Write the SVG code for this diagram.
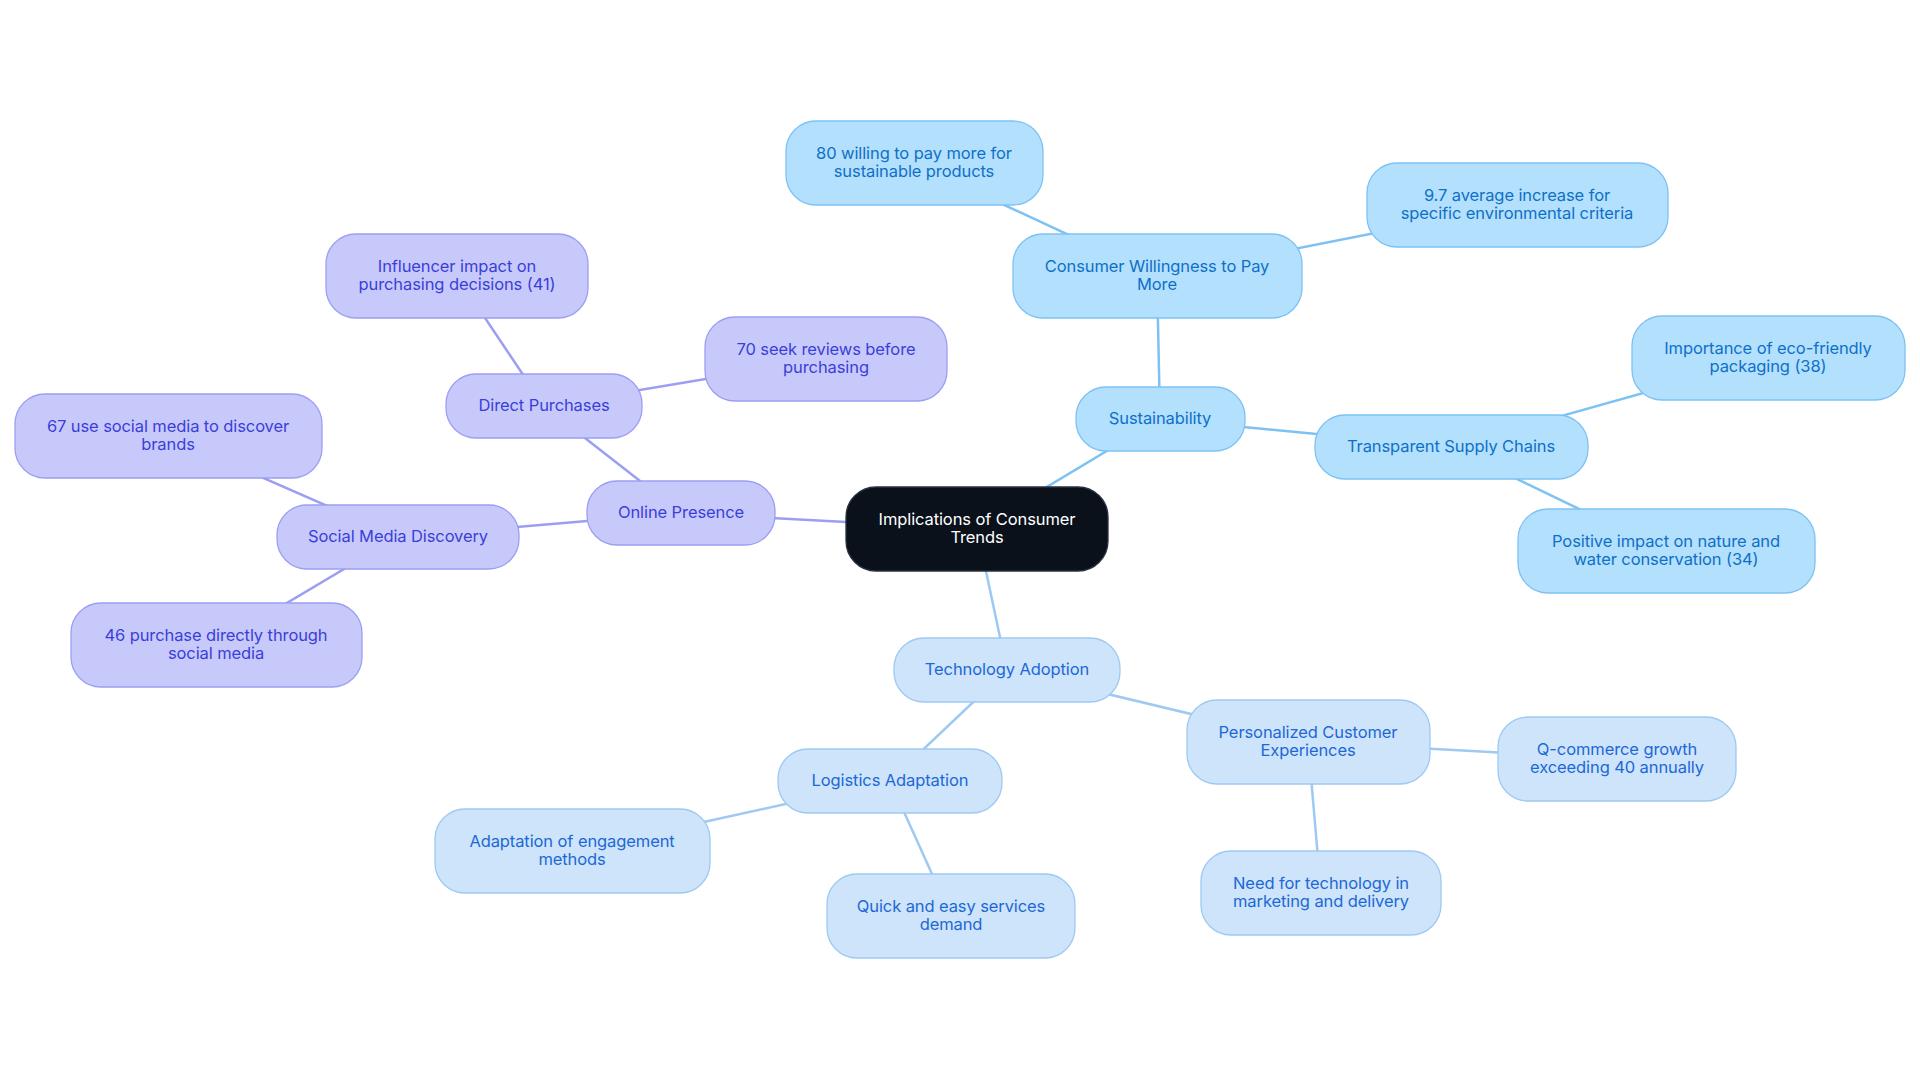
<svg xmlns="http://www.w3.org/2000/svg" width="1920" height="1083" viewBox="0 0 1920 1083">
<style>
text{font-family:Inter,"Noto Sans","Liberation Sans",sans-serif;font-size:16.5px;text-anchor:middle;dominant-baseline:central;letter-spacing:-0.1px}
.p rect{fill:#c8c9fb;stroke:#9c9ef2;stroke-width:1.3}
.p text{fill:#3a3fd9}
.s rect{fill:#b3e0fd;stroke:#7dc2f3;stroke-width:1.3}
.s text{fill:#0f70c8}
.t rect{fill:#cde4fb;stroke:#9ec9f2;stroke-width:1.3}
.t text{fill:#1d68d6}
.r rect{fill:#0b111b;stroke:#2a3040;stroke-width:1.3}
.r text{fill:#ffffff}
#edges line{stroke-width:2.5}
.ep{stroke:#9c9ef2}
.es{stroke:#7dc2f3}
.et{stroke:#9ec9f2}
</style>
<rect width="1920" height="1083" fill="#ffffff"/>
<g id="edges">
<line class="ep" x1="977" y1="529" x2="681" y2="513"/>
<line class="ep" x1="681" y1="513" x2="544" y2="406"/>
<line class="ep" x1="544" y1="406" x2="826" y2="359"/>
<line class="ep" x1="544" y1="406" x2="457" y2="276"/>
<line class="ep" x1="681" y1="513" x2="398" y2="537"/>
<line class="ep" x1="398" y1="537" x2="168" y2="436"/>
<line class="ep" x1="398" y1="537" x2="216" y2="645"/>
<line class="es" x1="977" y1="529" x2="1160" y2="419"/>
<line class="es" x1="1160" y1="419" x2="1157" y2="276"/>
<line class="es" x1="1157" y1="276" x2="914" y2="163"/>
<line class="es" x1="1157" y1="276" x2="1517" y2="205"/>
<line class="es" x1="1160" y1="419" x2="1451" y2="447"/>
<line class="es" x1="1451" y1="447" x2="1768" y2="358"/>
<line class="es" x1="1451" y1="447" x2="1666" y2="551"/>
<line class="et" x1="977" y1="529" x2="1007" y2="670"/>
<line class="et" x1="1007" y1="670" x2="890" y2="781"/>
<line class="et" x1="890" y1="781" x2="572" y2="851"/>
<line class="et" x1="890" y1="781" x2="951" y2="916"/>
<line class="et" x1="1007" y1="670" x2="1308" y2="742"/>
<line class="et" x1="1308" y1="742" x2="1617" y2="759"/>
<line class="et" x1="1308" y1="742" x2="1321" y2="893"/>
</g>
<g id="root" class="r"><rect x="846" y="487" width="262" height="84" rx="30"/><text x="977" y="518.5">Implications of Consumer</text><text x="977" y="537">Trends</text></g>
<g id="online-presence" class="p"><rect x="587" y="481" width="188" height="64" rx="30"/><text x="681" y="511.5">Online Presence</text></g>
<g id="direct-purchases" class="p"><rect x="446" y="374" width="196" height="64" rx="30"/><text x="544" y="404.5">Direct Purchases</text></g>
<g id="seek-reviews" class="p"><rect x="705" y="317" width="242" height="84" rx="30"/><text x="826" y="348.5">70 seek reviews before</text><text x="826" y="367">purchasing</text></g>
<g id="influencer" class="p"><rect x="326" y="234" width="262" height="84" rx="30"/><text x="457" y="265.5">Influencer impact on</text><text x="457" y="284">purchasing decisions (41)</text></g>
<g id="social-media-discovery" class="p"><rect x="277" y="505" width="242" height="64" rx="30"/><text x="398" y="535.5">Social Media Discovery</text></g>
<g id="use-social" class="p"><rect x="15" y="394" width="307" height="84" rx="30"/><text x="168" y="425.5">67 use social media to discover</text><text x="168" y="444">brands</text></g>
<g id="purchase-social" class="p"><rect x="71" y="603" width="291" height="84" rx="30"/><text x="216" y="634.5">46 purchase directly through</text><text x="216" y="653">social media</text></g>
<g id="sustainability" class="s"><rect x="1076" y="387" width="169" height="64" rx="30"/><text x="1160" y="417.5">Sustainability</text></g>
<g id="willingness" class="s"><rect x="1013" y="234" width="289" height="84" rx="30"/><text x="1157" y="265.5">Consumer Willingness to Pay</text><text x="1157" y="284">More</text></g>
<g id="willing-80" class="s"><rect x="786" y="121" width="257" height="84" rx="30"/><text x="914" y="152.5">80 willing to pay more for</text><text x="914" y="171">sustainable products</text></g>
<g id="increase-97" class="s"><rect x="1367" y="163" width="301" height="84" rx="30"/><text x="1517" y="194.5">9.7 average increase for</text><text x="1517" y="213">specific environmental criteria</text></g>
<g id="transparent" class="s"><rect x="1315" y="415" width="273" height="64" rx="30"/><text x="1451" y="445.5">Transparent Supply Chains</text></g>
<g id="packaging" class="s"><rect x="1632" y="316" width="273" height="84" rx="30"/><text x="1768" y="347.5">Importance of eco-friendly</text><text x="1768" y="366">packaging (38)</text></g>
<g id="nature" class="s"><rect x="1518" y="509" width="297" height="84" rx="30"/><text x="1666" y="540.5">Positive impact on nature and</text><text x="1666" y="559">water conservation (34)</text></g>
<g id="technology" class="t"><rect x="894" y="638" width="226" height="64" rx="30"/><text x="1007" y="668.5">Technology Adoption</text></g>
<g id="logistics" class="t"><rect x="778" y="749" width="224" height="64" rx="30"/><text x="890" y="779.5">Logistics Adaptation</text></g>
<g id="engagement" class="t"><rect x="435" y="809" width="275" height="84" rx="30"/><text x="572" y="840.5">Adaptation of engagement</text><text x="572" y="859">methods</text></g>
<g id="quick" class="t"><rect x="827" y="874" width="248" height="84" rx="30"/><text x="951" y="905.5">Quick and easy services</text><text x="951" y="924">demand</text></g>
<g id="personalized" class="t"><rect x="1187" y="700" width="243" height="84" rx="30"/><text x="1308" y="731.5">Personalized Customer</text><text x="1308" y="750">Experiences</text></g>
<g id="qcommerce" class="t"><rect x="1498" y="717" width="238" height="84" rx="30"/><text x="1617" y="748.5">Q-commerce growth</text><text x="1617" y="767">exceeding 40 annually</text></g>
<g id="need-tech" class="t"><rect x="1201" y="851" width="240" height="84" rx="30"/><text x="1321" y="882.5">Need for technology in</text><text x="1321" y="901">marketing and delivery</text></g>
</svg>
